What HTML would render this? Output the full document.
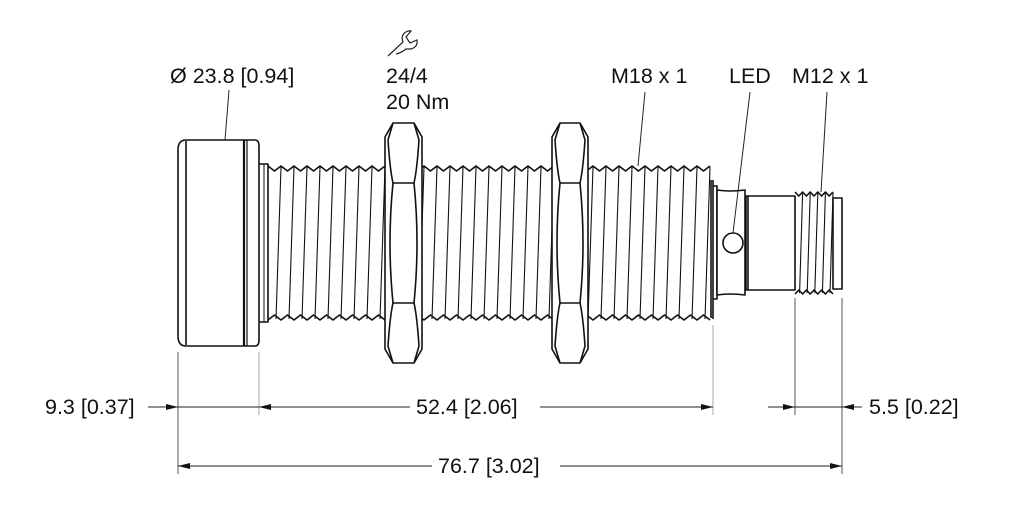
<!DOCTYPE html>
<html><head><meta charset="utf-8"><style>
html,body{margin:0;padding:0;background:#fff;}
svg{display:block;}
text{font-family:"Liberation Sans",sans-serif;font-size:21.5px;fill:#111;}
</style></head><body>
<svg id="s" width="1022" height="511" viewBox="0 0 1022 511" xmlns="http://www.w3.org/2000/svg">
<g fill="none" stroke="#111" stroke-width="1.6" stroke-linejoin="round">
 <path d="M186,140 H255 Q259,140 259,146 V340 Q259,346 255,346 H186 Q178,346 178,336 V150 Q178,140 186,140 Z" fill="#fff"/>
 <line x1="186" y1="141" x2="186" y2="345"/>
 <line x1="244" y1="140" x2="244" y2="346" stroke-width="2.2"/>
 <line x1="247" y1="140" x2="247" y2="346" stroke-width="1.2"/>
 <path d="M259,164 H268 V322 H259"/>
 <line x1="264" y1="164" x2="264" y2="322" stroke-width="1"/>
 <g id="thr"></g>
 <g id="nuts"></g>
 <line x1="713" y1="180" x2="713" y2="319"/>
 <path d="M713,186 H717 V299 H713"/>
 <path d="M717,190 Q730,192 745,190 V295 Q730,293 717,295 Z" fill="#fff"/>
 <circle cx="733" cy="243" r="10" fill="#fff"/>
 <rect x="746" y="196" width="49" height="94" fill="#fff"/>
 <line x1="748" y1="196" x2="748" y2="290"/>
 <g id="thr2"></g>
 <rect x="833" y="198" width="9" height="91" fill="#fff"/>
</g>
<g stroke="#222" stroke-width="1" fill="none">
 <line x1="229" y1="90" x2="225" y2="140"/>
 <line x1="645" y1="92" x2="638" y2="166"/>
 <line x1="750" y1="92" x2="733" y2="233"/>
 <line x1="827" y1="92" x2="821" y2="192"/>
 <line x1="178" y1="352" x2="178" y2="474" stroke="#555"/>
 <line x1="259" y1="352" x2="259" y2="415" stroke="#aaa"/>
 <line x1="713" y1="325" x2="713" y2="415" stroke="#aaa"/>
 <line x1="795" y1="298" x2="795" y2="415" stroke="#555"/>
 <line x1="842" y1="298" x2="842" y2="474" stroke="#555"/>
 <line x1="148" y1="407" x2="178" y2="407"/>
 <line x1="178" y1="407" x2="259" y2="407"/>
 <line x1="259" y1="407" x2="410" y2="407"/>
 <line x1="540" y1="407" x2="713" y2="407"/>
 <line x1="768" y1="407" x2="795" y2="407"/>
 <line x1="795" y1="407" x2="842" y2="407"/>
 <line x1="842" y1="407" x2="862" y2="407"/>
 <line x1="178" y1="466" x2="432" y2="466"/>
 <line x1="560" y1="466" x2="842" y2="466"/>
 <path d="M388,56 L403,42 Q400,34 408,31 L411,31 L406,37 L410,43 L417,40 Q418,47 411,49 L406,49 Q401,53 396,54" stroke-width="1.2"/>
</g>
<g fill="#111">
 <polygon points="178,407 166,404 166,410"/>
 <polygon points="259,407 271,404 271,410"/>
 <polygon points="713,407 701,404 701,410"/>
 <polygon points="795,407 783,404 783,410"/>
 <polygon points="842,407 854,404 854,410"/>
 <polygon points="178,466 190,463 190,469"/>
 <polygon points="842,466 830,463 830,469"/>
</g>
<text x="170" y="83">Ø 23.8 [0.94]</text>
<text x="386" y="83">24/4</text>
<text x="386" y="109">20 Nm</text>
<text x="611" y="83">M18 x 1</text>
<text x="729" y="83">LED</text>
<text x="792" y="83">M12 x 1</text>
<text x="45" y="414">9.3 [0.37]</text>
<text x="416" y="414">52.4 [2.06]</text>
<text x="869" y="414">5.5 [0.22]</text>
<text x="438" y="473">76.7 [3.02]</text>
</svg>
<script>
var NS="http://www.w3.org/2000/svg";
function el(p,t,a){var e=document.createElementNS(NS,t);for(var k in a)e.setAttribute(k,a[k]);p.appendChild(e);return e;}
function thread(g,x0,x1,yt,yb,pitch,amp,slant){
 var top="M"+x0+","+yt, bot="M"+x0+","+yb;
 for(var x=x0;x<x1-1;x+=pitch){
  top+=" L"+(x+pitch/2)+","+(yt+amp)+" L"+(x+pitch)+","+yt;
  bot+=" L"+(x+pitch/2)+","+(yb-amp)+" L"+(x+pitch)+","+yb;
  el(g,"line",{x1:x+pitch,y1:yt+1,x2:x+pitch-slant,y2:yb-1,"stroke-width":1.1});
 }
 el(g,"path",{d:top});el(g,"path",{d:bot});
}
var t=document.getElementById("thr");
thread(t,268,711,166,320,13,5,5);
el(t,"line",{x1:711,y1:180,x2:711,y2:318});
thread(document.getElementById("thr2"),795,833,192,294,7.6,4,3);
var n=document.getElementById("nuts");
function nut(x0,x1){
 el(n,"path",{d:"M"+(x0+8)+",123 H"+(x1-8)+" L"+x1+",137 V349 L"+(x1-8)+",363 H"+(x0+8)+" L"+x0+",349 V137 Z",fill:"#fff"});
 el(n,"path",{d:"M"+(x0+8)+",123 L"+(x0+3)+",140 Q"+(x0+5)+",170 "+(x0+8)+",183 H"+(x1-8)+" Q"+(x1-5)+",170 "+(x1-3)+",140 L"+(x1-8)+",123"});
 el(n,"path",{d:"M"+(x0+8)+",363 L"+(x0+3)+",346 Q"+(x0+5)+",316 "+(x0+8)+",303 H"+(x1-8)+" Q"+(x1-5)+",316 "+(x1-3)+",346 L"+(x1-8)+",363"});
 el(n,"path",{d:"M"+(x0+8)+",183 Q"+(x0+2)+",243 "+(x0+8)+",303 M"+(x1-8)+",183 Q"+(x1-2)+",243 "+(x1-8)+",303"});
}
nut(385,422);nut(552,588);
</script>
</body></html>
